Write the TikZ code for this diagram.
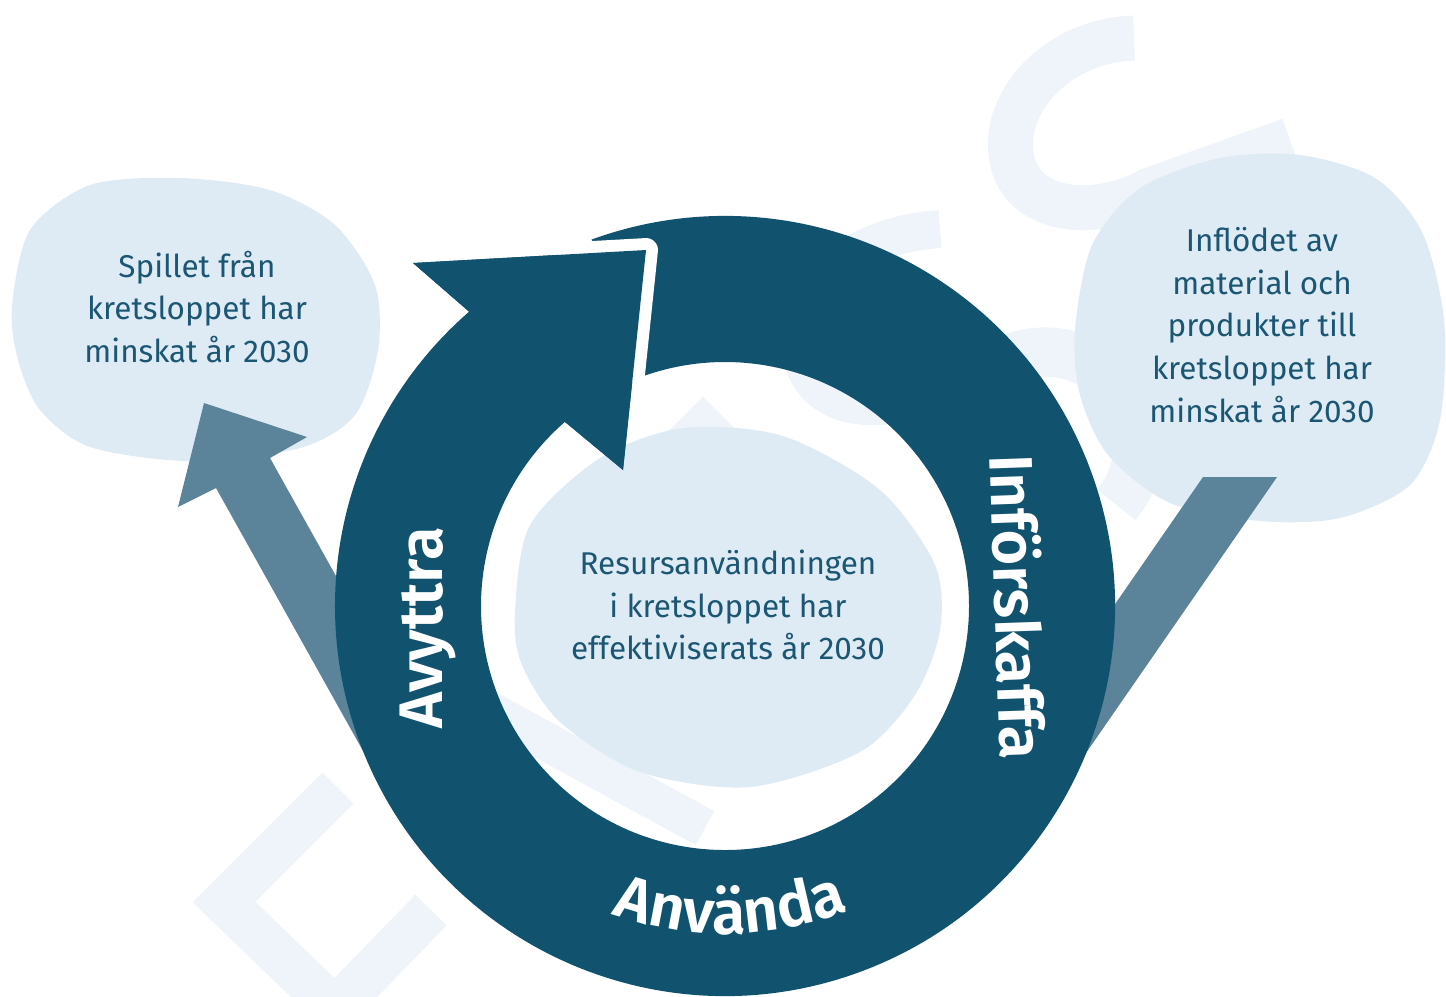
\documentclass[tikz,border=0pt]{standalone}
\usepackage{fontspec}
\setmainfont{Fira Sans}
\newfontfamily\ringfam{Fira Sans SemiBold}
\usetikzlibrary{calc,decorations.text}

\definecolor{ringblue}{HTML}{11536F}
\definecolor{arrowgrey}{HTML}{5B8399}
\definecolor{bubbleblue}{HTML}{DFEBF4}
\definecolor{faintblue}{HTML}{EEF4F9}
\definecolor{textblue}{HTML}{1B5673}

\newcommand{\ringfont}{\fontsize{17.5}{17.5}\selectfont\ringfam}

\tikzset{
  bubble/.style={fill=bubbleblue},
  bubbletext/.style={text=textblue, align=center, font=\fontsize{8.95}{12.1}\selectfont},
  ringlabel/.style={text=white, font=\ringfont, anchor=base},
  watermark/.style={draw=faintblue, line width=12.8pt},
}

\begin{document}
\begin{tikzpicture}[x=0.01cm, y=-0.01cm]
        \useasboundingbox (0,0) rectangle (1446,996);
        \coordinate (c) at (725,606);
        %% faint marks in the background
        \draw[watermark] (1134,38) .. controls (1060,40) and (1000,100) .. (1012,160) .. controls (1022,210) and (1090,222) .. (1150,190) -- (1290,140);
        \draw[watermark, line width=10.8pt] (940,229) .. controls (850,235) and (790,290) .. (800,350) .. controls (810,400) and (850,410) .. (890,405);
        \draw[watermark, line width=14pt] (1045,445) ++(190:93) arc[start angle=190, end angle=400, radius=93];
        \draw[watermark, line width=12.5pt, miter limit=4] (338,788) -- (224,902) -- (335,1009) -- (431,910);
        \draw[watermark, line width=11pt] (470,700) -- (705,828);
        \draw[watermark, line width=11.4pt] (650,478) -- (703,425) -- (756,478);
        %% bubbles
        \fill[bubble] plot[smooth cycle] coordinates {(12,307) (30,230) (90,185) (180,178) (270,190) (335,225) (375,285) (378,350) (355,415) (300,448) (190,461) (90,447) (40,410) (18,360)};
        \fill[bubble] plot[smooth cycle] coordinates {(1075,330) (1092,245) (1140,188) (1220,158) (1300,155) (1375,178) (1422,232) (1444,320) (1440,420) (1410,485) (1340,518) (1260,521) (1170,503) (1108,455) (1080,395)};
        \fill[bubble] plot[smooth cycle] coordinates {(515,613) (530,525) (600,458) (683,428) (783,436) (880,490) (935,565) (940,630) (915,695) (860,752) (750,787) (640,772) (560,722) (522,665)};
        %% side arrows
        \fill[arrowgrey] (216,488) -- (178,507) -- (204,403) -- (307,437) -- (270,458) -- (426,737) -- (372,767) -- cycle;
        \fill[arrowgrey] (1203,477) -- (1277,477) -- (1050,805) -- (976,805) -- cycle;
        %% ring with head
        \fill[ringblue] ($(c)+(250:390)$) arc[start angle=250, end angle=589, radius=390]
            -- (413,263) -- (646,250) -- (623,470) -- ($(c)+(229:244)$)
            arc[start angle=589, end angle=250, radius=244] -- cycle;
        \draw[white, line width=6.8pt, line join=round] ($(413,263)!0.62!(646,250)$) -- (646,250) -- ($(646,250)!0.6!(623,470)$);
        \fill[ringblue] (413,263) -- (646,250) -- (623,470) -- ($(c)+(229:244)$) -- ($(c)+(229:390)$) -- cycle;
        %% labels
        \node[ringlabel, rotate=90] (dispose) at (442,628) {Avyttra};
        \node[ringlabel, rotate=-88] (acquire) at (995,608) {Införskaffa};
        \path[decorate, decoration={text along path, text align=center,
            text={|\color{white}\ringfont|Använda}}]
            ($(c)+(125:328)$) arc[start angle=125, end angle=53, radius=328];
        \node[bubbletext] (spill) at (197,307) {Spillet från\\kretsloppet har\\minskat år 2030};
        \node[bubbletext] (inflow) at (1262,325) {Inflödet av\\material och\\produkter till\\kretsloppet har\\minskat år 2030};
        \node[bubbletext] (use) at (728,605) {Resursanvändningen\\i kretsloppet har\\effektiviserats år 2030};
\end{tikzpicture}
\end{document}
